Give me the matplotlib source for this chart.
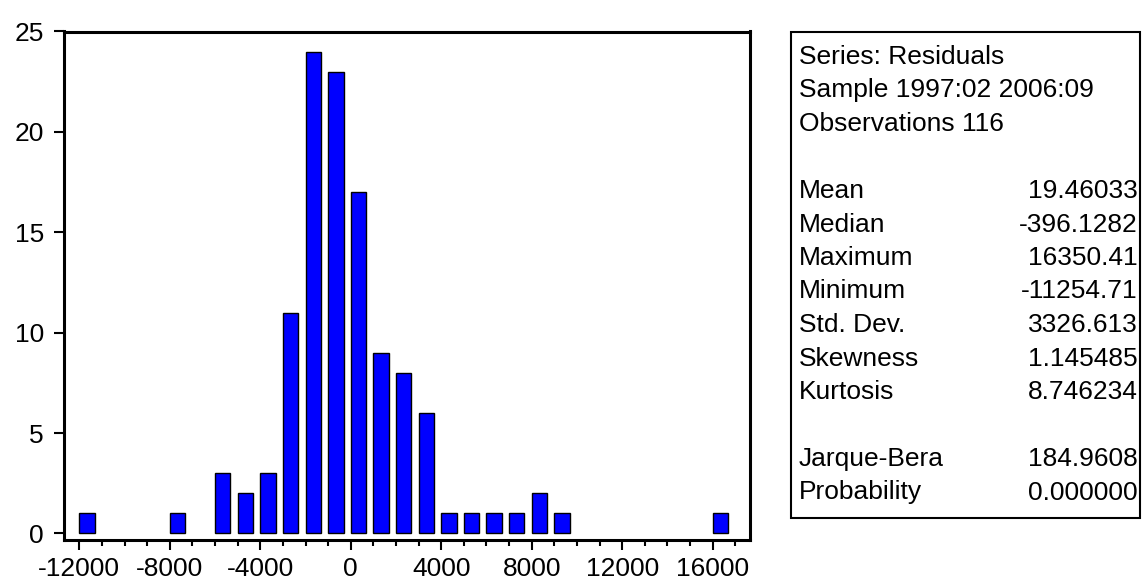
import matplotlib
matplotlib.use("Agg")
import matplotlib.pyplot as plt
from matplotlib.patches import Rectangle
from matplotlib.ticker import MultipleLocator, FixedLocator

plt.rcParams['font.family'] = ['Liberation Sans', 'DejaVu Sans']

# Histogram data (bin left edges, width 1000) and counts
bin_left = [-12000, -8000, -6000, -5000, -4000, -3000, -2000, -1000, 0,
            1000, 2000, 3000, 4000, 5000, 6000, 7000, 8000, 9000, 16000]
counts = [1, 1, 3, 2, 3, 11, 24, 23, 17, 9, 8, 6, 1, 1, 1, 1, 2, 1, 1]

x_ticks = [-12000, -8000, -4000, 0, 4000, 8000, 12000, 16000]
y_ticks = [0, 5, 10, 15, 20, 25]

stat_labels = ["Mean", "Median", "Maximum", "Minimum", "Std. Dev.",
               "Skewness", "Kurtosis", "Jarque-Bera", "Probability"]
stat_values = ["19.46033", "-396.1282", "16350.41", "-11254.71", "3326.613",
               "1.145485", "8.746234", "184.9608", "0.000000"]
header_lines = ["Series: Residuals", "Sample 1997:02 2006:09", "Observations 116"]

W, H = 1144, 581
FS = 19
fig = plt.figure(figsize=(W / 100, H / 100), dpi=100)
ax = fig.add_axes([63.5 / W, 1 - 540 / H, (750 - 63.5) / W, (540 - 31.5) / H])

ax.bar(bin_left, counts, width=680, align='edge', color='#0000FF',
       edgecolor='black', linewidth=1.0, zorder=2)

ax.set_xlim(-12700, 17650)
ax.set_ylim(-0.33, 25)
ax.xaxis.set_major_locator(FixedLocator(x_ticks))
ax.xaxis.set_minor_locator(MultipleLocator(1000))
ax.yaxis.set_major_locator(FixedLocator(y_ticks))
ax.set_xticklabels([str(v) for v in x_ticks])
ax.set_yticklabels([str(v) for v in y_ticks])

for s in ax.spines.values():
    s.set_linewidth(2.2)
ax.tick_params(axis='x', which='major', direction='out', length=7, width=1.5,
               labelsize=FS, pad=5)
ax.tick_params(axis='x', which='minor', direction='out', length=4.5, width=1.5)
ax.tick_params(axis='y', which='major', direction='out', length=7, width=1.5,
               labelsize=FS, pad=7)

# Stats box
bx0, by0, bx1, by1 = 791, 32, 1140, 518
fig.patches.append(Rectangle((bx0 / W, 1 - by1 / H), (bx1 - bx0) / W, (by1 - by0) / H,
                             transform=fig.transFigure, fill=False,
                             edgecolor='black', linewidth=1.5))
line_h = 33.5
y0 = 57
rows = [(t, None) for t in header_lines] + [("", None)] + \
       list(zip(stat_labels[:7], stat_values[:7])) + [("", None)] + \
       list(zip(stat_labels[7:], stat_values[7:]))
for i, (lab, val) in enumerate(rows):
    yy = 1 - (y0 + i * line_h) / H
    if lab:
        fig.text(799 / W, yy, lab, ha='left', va='center', fontsize=FS)
    if val is not None:
        fig.text(1138 / W, yy, val, ha='right', va='center', fontsize=FS)

fig.savefig("out.png", dpi=100)
